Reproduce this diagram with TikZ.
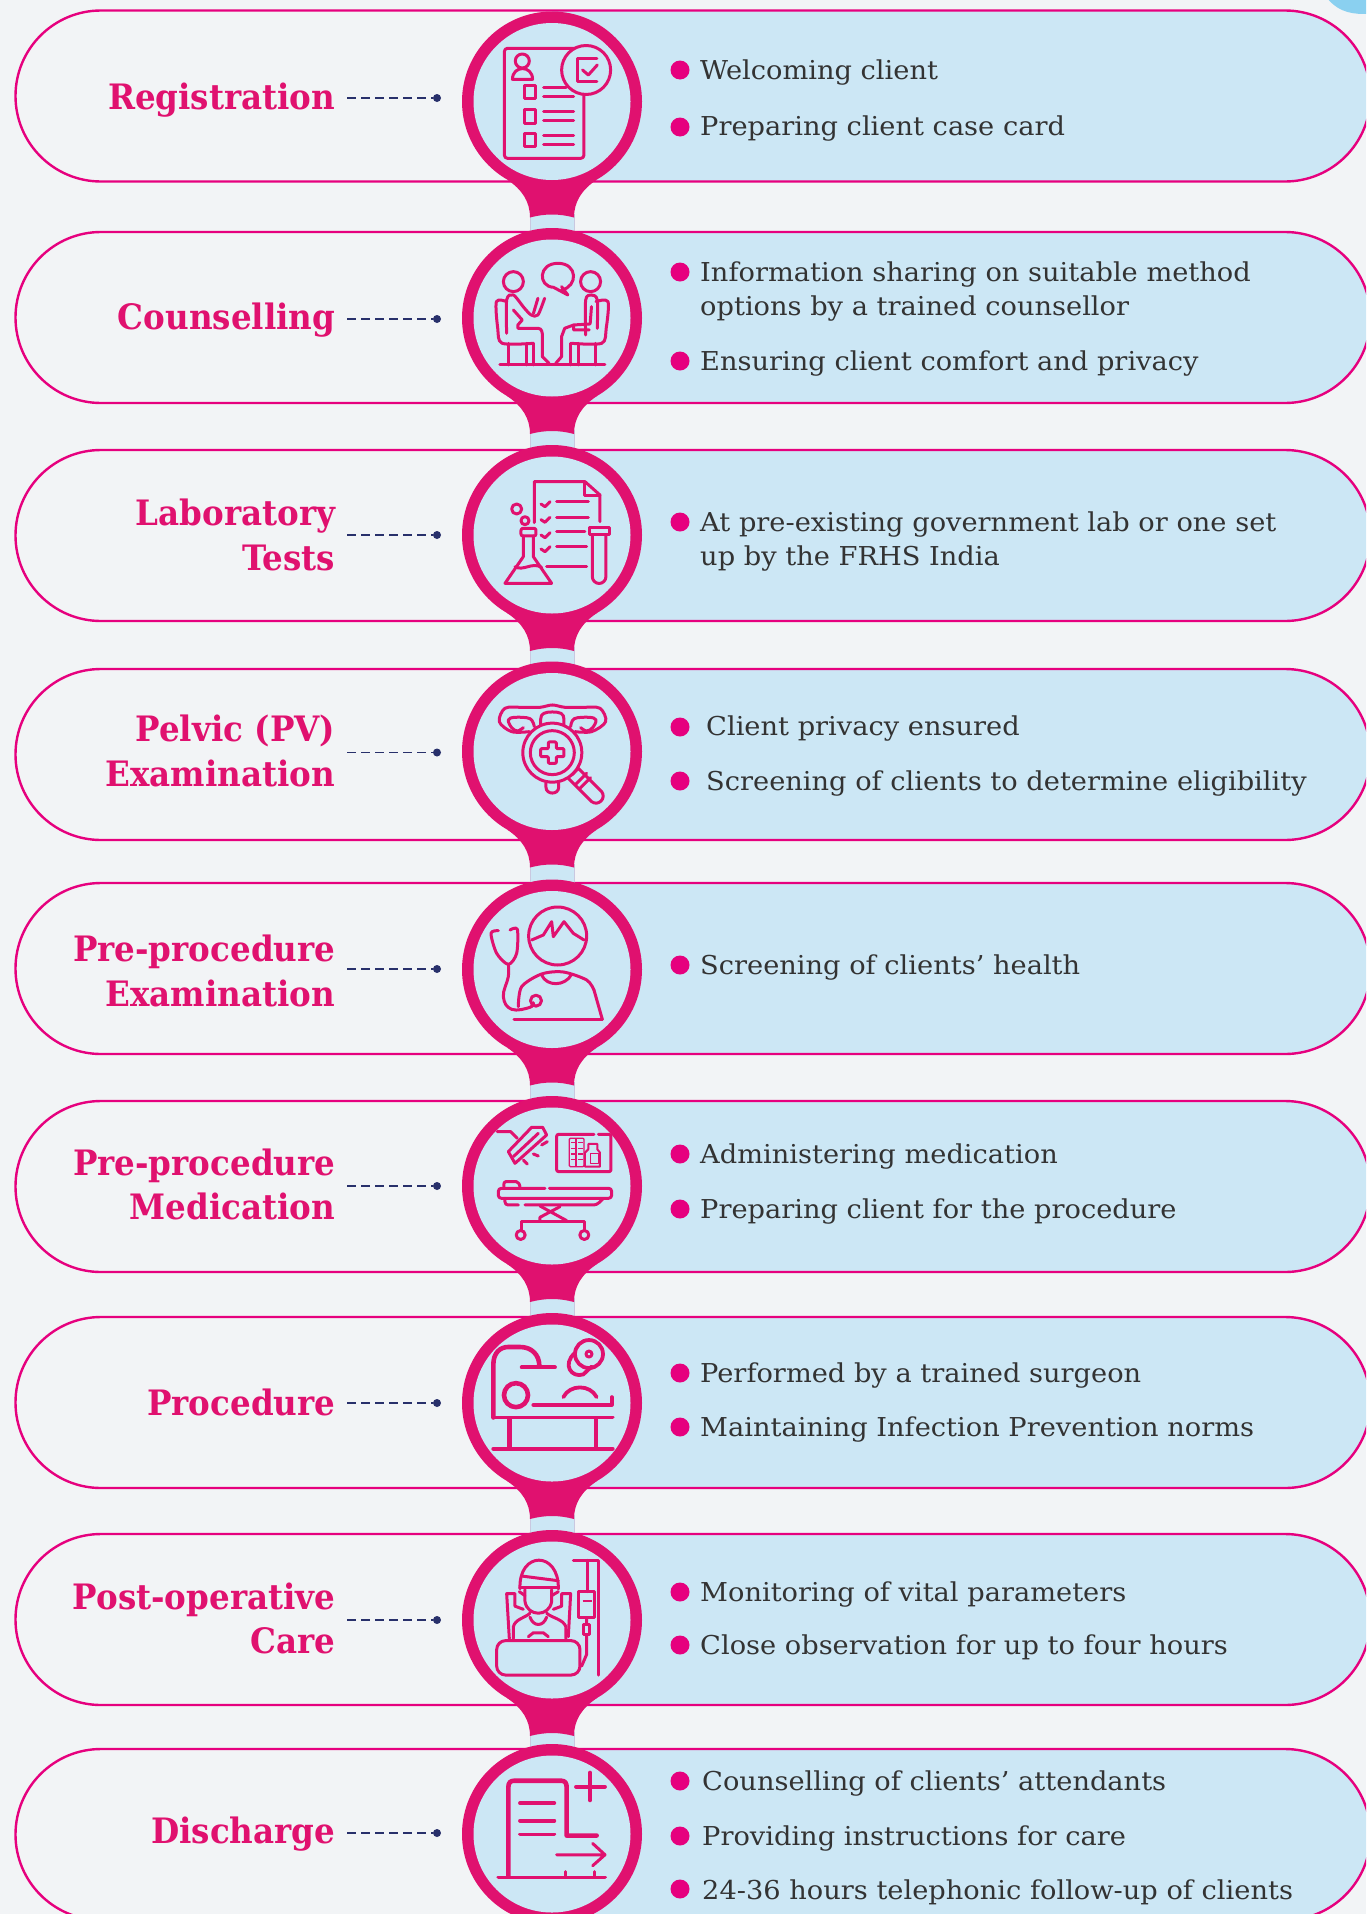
\documentclass[tikz,border=0pt]{standalone}
\usepackage{fontspec}
\setmainfont{DejaVu Serif}
\newfontfamily\titlef[FakeStretch=0.93]{DejaVu Serif Bold}
\newfontfamily\bodyf[FakeStretch=1.048]{DejaVu Serif}
\definecolor{bgc}{HTML}{F2F4F6}
\definecolor{panec}{HTML}{CCE7F5}
\definecolor{linec}{HTML}{E6007E}
\definecolor{ringc}{HTML}{E0116F}
\definecolor{navyc}{HTML}{28306B}
\definecolor{blobc}{HTML}{8AD0F0}
\definecolor{textc}{HTML}{333333}
\definecolor{edgec}{HTML}{C9C8E0}
\tikzset{
 ttl/.style={anchor=mid east,inner sep=0pt,yshift=-10.5pt,text=ringc,font=\titlef\fontsize{35}{35}\selectfont},
 bod/.style={anchor=mid west,inner sep=0pt,yshift=-7pt,text=textc,font=\bodyf\fontsize{26}{26}\selectfont},
 bull/.style={circle,fill=linec,inner sep=0pt,minimum size=19pt},
 tip/.style={circle,fill=navyc,inner sep=0pt,minimum size=8pt},
 dashln/.style={draw=navyc,line width=1.8pt,dash pattern=on 8.5pt off 5.5pt},
 ic/.style={draw=ringc,line width=3pt,line cap=round,line join=round},
 ict/.style={draw=ringc,line width=1.3pt,line join=round},
 ick/.style={draw=ringc,line width=4.6pt,line cap=round,line join=round},
 zA/.style={x=0.4464pt,y=-0.3333pt},
 zB/.style={x=0.3333pt,y=-0.3333pt},
 zC/.style={x=0.3333pt,y=-0.3915pt},
}
\begin{document}
\begin{tikzpicture}[x=1pt,y=-1pt]
\useasboundingbox (0,0) rectangle (1366,1914);
\clip (0,0) rectangle (1366,1914);
\fill[bgc] (0,0) rectangle (1366,1914);
\fill[blobc] (1327,-2) .. controls (1340,14) and (1355,14) .. (1368,14) -- (1368,-2) -- cycle;
% pills
\foreach \py in {96,317.5,535.5,754.5,968.5,1186.5,1402.5,1619.5,1834.5}{
  \fill[panec] (552,\py-85.5) -- (1285,\py-85.5) arc[start angle=90,end angle=-90,radius=85.5pt] -- (552,\py+85.5) -- cycle;
  \draw[linec,line width=2.4pt] (101,\py-85.5) -- (1285,\py-85.5)
     arc[start angle=90,end angle=-90,radius=85.5pt] -- (101,\py+85.5)
     arc[start angle=270,end angle=90,radius=85.5pt] -- cycle;
}
% stems
\foreach \cy in {101.5,318,535,751.5,969.5,1186,1403,1620}{
  \fill[panec] (530,\cy+112) rectangle (574,\cy+170);
  \draw[edgec,line width=0.7pt] (530,\cy+112) -- (530,\cy+170) (574,\cy+112) -- (574,\cy+170);
  \fill[ringc] (507,\cy+78) .. controls (522,\cy+88) and (530,\cy+100) .. (530,\cy+116)
     .. controls (545,\cy+112) and (559,\cy+112) .. (574,\cy+116)
     .. controls (574,\cy+100) and (582,\cy+88) .. (597,\cy+78) -- cycle;
}
% medallions
\foreach \cy in {101.5,318,535,751.5,969.5,1186,1403,1620,1834}{
  \fill[ringc] (552,\cy) circle[radius=90pt];
  \fill[panec] (552,\cy) circle[radius=78.5pt];
}
% titles and connectors
\node[ttl] (t1) at (335.5,96) {Registration};
\node[ttl] (t2) at (335.5,316) {Counselling};
\node[ttl] (t3a) at (335.5,512) {Laboratory};
\node[ttl] (t3b) at (335.5,557) {Tests};
\node[ttl] (t4a) at (335.5,728) {Pelvic (PV)};
\node[ttl] (t4b) at (335.5,773) {Examination};
\node[ttl] (t5a) at (335.5,948) {Pre-procedure};
\node[ttl] (t5b) at (335.5,993) {Examination};
\node[ttl] (t6a) at (335.5,1162) {Pre-procedure};
\node[ttl] (t6b) at (335.5,1206) {Medication};
\node[ttl] (t7) at (335.5,1402) {Procedure};
\node[ttl] (t8a) at (335.5,1596) {Post-operative};
\node[ttl] (t8b) at (335.5,1640) {Care};
\node[ttl] (t9) at (335.5,1830) {Discharge};
\foreach \n/\dy in {1/98,2/319,3/535,4/752.5,5/969,6/1186,7/1403,8/1620,9/1833}{
  \coordinate (ds\n) at (347,\dy);
  \node[tip] (dp\n) at (437,\dy) {};
  \draw[dashln] (ds\n) -- (dp\n);
}
% bullets
\foreach \n/\bx/\by in {a/680/70,b/680/127,c/680/272,d/680/361,e/680/522,f/680/727,g/680/781,h/680/965,i/680/1154,j/680/1209,k/680/1373,l/680/1427,m/680/1592,n/680/1645,o/680/1781,p/680/1836,q/680/1889}{
  \node[bull] (b\n) at (\bx,\by) {};
}
% body text
\node[bod] (x1) at (700,70) {Welcoming client};
\node[bod] (x2) at (700,126) {Preparing client case card};
\node[bod] (x3) at (700,272) {Information sharing on suitable method};
\node[bod] (x4) at (700,306) {options by a trained counsellor};
\node[bod] (x5) at (700,361) {Ensuring client comfort and privacy};
\node[bod] (x6) at (700,522) {At pre-existing government lab or one set};
\node[bod] (x7) at (700,556) {up by the FRHS India};
\node[bod] (x8) at (706,726) {Client privacy ensured};
\node[bod] (x9) at (706,781) {Screening of clients to determine eligibility};
\node[bod] (x10) at (700,965) {Screening of clients’ health};
\node[bod] (x11) at (700,1154) {Administering medication};
\node[bod] (x12) at (700,1209) {Preparing client for the procedure};
\node[bod] (x13) at (700,1373) {Performed by a trained surgeon};
\node[bod] (x14) at (700,1427) {Maintaining Infection Prevention norms};
\node[bod] (x15) at (700,1592) {Monitoring of vital parameters};
\node[bod] (x16) at (700,1645) {Close observation for up to four hours};
\node[bod] (x17) at (702,1781) {Counselling of clients’ attendants};
\node[bod] (x18) at (702,1836) {Providing instructions for care};
\node[bod] (x19) at (702,1890) {24-36 hours telephonic follow-up of clients};
% icon 1: registration
\begin{scope}[zA]
 \draw[ic,rounded corners=3pt] (1300,145) -- (1130,145) -- (1130,475) -- (1308,475) -- (1308,270);
 \draw[ic,fill=panec] (1313,210) circle[radius=24.5pt];
 \draw[ic] (1170,183) circle[radius=7pt];
 \draw[ic] (1148,238) .. controls (1148,195) and (1193,195) .. (1193,238) -- cycle;
 \foreach \yy in {257,330,400}{ \draw[ic] (1176,\yy) rectangle (1200,\yy+40); }
 \foreach \ya/\xe in {262/1268,290/1285,335/1285,362/1285,408/1285,433/1285}{ \draw[ic] (1218,\ya) -- (\xe,\ya); }
 \draw[ic] (1337,175) -- (1293,175) -- (1293,245) -- (1337,245);
 \draw[ic] (1305,210) -- (1318,225) -- (1338,195);
\end{scope}
% icon 2: counselling
\begin{scope}[zA]
 \draw[ic] (1150,845) circle[radius=10pt];
 \draw[ic] (1323,845) circle[radius=10pt];
 \draw[ic] (1258,870) .. controls (1295,860) and (1295,790) .. (1250,790) .. controls (1205,790) and (1205,860) .. (1240,862) -- (1272,885) -- (1258,860);
 \draw[ic] (1120,1095) -- (1355,1095);
 \draw[ic] plot[smooth,tension=.5] coordinates {(1135,905) (1112,905) (1115,985) (1125,1030) (1195,1030)};
 \draw[ic] (1140,1030) -- (1140,1095) (1180,1030) -- (1180,1095) (1195,1030) -- (1195,1095);
 \draw[ic] plot[smooth,tension=.5] coordinates {(1135,1000) (1135,900) (1150,885) (1175,925) (1190,945) (1205,945) (1220,895)};
 \draw[ic] (1205,895) -- (1195,940);
 \draw[ic] (1150,930) -- (1170,960) -- (1160,975) -- (1160,985) -- (1205,985) .. controls (1215,985) and (1215,1000) .. (1215,1010) -- (1215,1070) -- (1230,1090);
 \draw[ic] plot[smooth,tension=.5] coordinates {(1335,905) (1362,905) (1358,985) (1348,1030) (1280,1030)};
 \draw[ic] (1333,1030) -- (1333,1095) (1295,1030) -- (1295,1095) (1278,1030) -- (1278,1095);
 \draw[ic] plot[smooth,tension=.5] coordinates {(1312,1005) (1312,900) (1325,885) (1338,900) (1338,985)};
 \draw[ic] (1325,920) -- (1322,972) -- (1285,975) -- (1285,990) -- (1320,990);
 \draw[ic] (1285,975) -- (1265,985) -- (1258,1010) -- (1258,1070) -- (1245,1090);
\end{scope}
% icon 3: laboratory
\begin{scope}[shift={(440,430)},zB]
 \draw[ic] (283,278) -- (283,155) -- (435,155) -- (480,195) -- (480,275);
 \draw[ic] (435,155) -- (435,195) -- (480,195);
 \foreach \yy in {225,272,318,360}{ \draw[ic] (303,\yy-3) -- (315,\yy+5) -- (330,\yy-10); }
 \foreach \yy/\xa/\xb in {215/350/445,262/350/445,305/350/435,350/350/440,410/320/440}{ \draw[ic] (\xa,\yy) -- (\xb,\yy); }
 \draw[ic,rounded corners=2pt] (243,295) rectangle (288,318);
 \draw[ic] (250,318) -- (250,380) -- (195,460) -- (335,460) -- (280,380) -- (280,318);
 \draw[ic] (225,410) .. controls (250,425) and (275,395) .. (305,412);
 \draw[ic] (230,237) circle[radius=5pt];
 \draw[ic] (255,272) circle[radius=4pt];
 \draw[ic] (448,292) rectangle (508,315);
 \draw[ic] (457,315) -- (457,440) arc[start angle=180,end angle=360,radius=6.8pt] -- (498,315);
\end{scope}
% icon 4: pelvic
\begin{scope}[shift={(440,430)},zB]
 \draw[ic] plot[smooth,tension=.55] coordinates {(268,905) (215,905) (178,875) (195,835) (245,832) (300,832) (337,825) (375,832) (430,832) (480,835) (497,875) (455,905) (405,905)};
 \draw[ic] plot[smooth,tension=.6] coordinates {(250,893) (232,903) (215,893) (205,870) (225,862) (270,866) (283,890)};
 \draw[ic] plot[smooth,tension=.6] coordinates {(422,893) (440,903) (458,893) (468,870) (448,862) (403,866) (392,890)};
 \draw[ic] (302,895) -- (302,868) .. controls (302,850) and (315,846) .. (337,846) .. controls (360,846) and (372,850) .. (372,868) -- (372,895);
 \draw[ic,fill=panec] (337,968) circle[radius=29.5pt];
 \draw[ic] (337,968) circle[radius=22pt];
 \draw[ic,rounded corners=1pt] (325,936) -- (349,936) -- (349,956) -- (372,956) -- (372,980) -- (349,980) -- (349,1000) -- (325,1000) -- (325,980) -- (302,980) -- (302,956) -- (325,956) -- cycle;
 \draw[ic] (318,1058) -- (318,1072) .. controls (318,1095) and (356,1095) .. (356,1072) -- (356,1058);
 \draw[ic] (395,1035) -- (415,1015) -- (485,1085) .. controls (500,1105) and (475,1130) .. (455,1115) -- (385,1045);
 \draw[ic] (408,1062) -- (440,1030) (420,1075) -- (452,1043);
\end{scope}
% icon 5: examination
\begin{scope}[shift={(440,870)},zB]
 \draw[ic] (353,198) circle[radius=29pt];
 \draw[ic] (275,210) -- (310,195) -- (335,155) -- (340,200) -- (372,155) -- (400,190) -- (432,210);
 \draw[ic] (222,448) -- (487,448);
 \draw[ic] plot[smooth,tension=.5] coordinates {(235,410) (245,350) (305,312) (370,306) (440,330) (462,360)};
 \draw[ic] (462,360) -- (487,448);
 \draw[ic] (305,315) .. controls (320,350) and (375,350) .. (395,313);
 \draw[ic] plot[smooth,tension=.5] coordinates {(175,182) (153,190) (170,250) (205,283) (230,250) (232,178) (210,180)};
 \draw[ic] plot[smooth,tension=.7] coordinates {(205,283) (205,320) (190,380) (215,418) (270,412) (280,398)};
 \draw[ic] (288,392) circle[radius=5.5pt];
\end{scope}
% icon 6: medication
\begin{scope}[shift={(440,870)},zB]
 \draw[ic] (172,785) -- (212,785) -- (232,805);
 \draw[ic] (205,845) -- (225,880) -- (320,795) -- (308,772) -- (275,772) -- cycle;
 \draw[ic] (220,860) -- (295,790);
 \draw[ic] (250,870) -- (262,882) (280,852) -- (295,858) (305,825) -- (322,815);
 \draw[ic,rounded corners=2pt] (462,793) -- (350,793) -- (350,905) -- (513,905) -- (513,793) -- (475,793);
 \draw[ict,rounded corners=1pt] (388,805) rectangle (432,890);
 \foreach \yy in {818,835,852,868}{ \draw[ict] (393,\yy) -- (408,\yy) (414,\yy) -- (428,\yy); }
 \draw[ict] (408,805) -- (408,890);
 \draw[ic,line width=2pt] (445,822) -- (472,822) -- (472,838) -- (480,848) -- (480,890) -- (435,890) -- (435,848) -- (445,838) -- cycle;
 \draw[ict] (452,850) rectangle (476,880);
 \draw[ic,rounded corners=3pt] (315,955) -- (175,955) -- (175,985) -- (515,985) -- (515,955) -- (328,955);
 \draw[ic,rounded corners=2pt] (192,950) -- (192,935) -- (235,935) -- (240,950);
 \draw[ic,rounded corners=3pt] (195,985) -- (195,1005) -- (235,1005);
 \draw[ic,rounded corners=3pt] (255,1005) -- (470,1005) -- (490,985);
 \draw[ic] (300,1008) -- (380,1052) (360,1010) -- (300,1042) -- (300,1052);
 \draw[ic] (245,1080) -- (245,1055) -- (435,1055) -- (435,1080);
 \draw[ic] (242,1095) circle[radius=4.5pt];
 \draw[ic] (433,1095) circle[radius=4.5pt];
\end{scope}
% icon 7: procedure
\begin{scope}[shift={(440,1300)},zC]
 \draw[ick] (160,300) -- (160,165) .. controls (160,135) and (180,120) .. (205,120) -- (240,120) .. controls (275,120) and (298,140) .. (298,168);
 \draw[ic,line width=3.8pt] (245,172) -- (345,172);
 \draw[ick] (228,243) circle[radius=12pt];
 \draw[ic,line width=3.8pt] (280,268) -- (515,268) -- (515,248);
 \draw[ic,line width=3.8pt] (160,300) -- (518,300);
 \draw[ic,line width=3.8pt] (370,248) .. controls (390,215) and (450,215) .. (470,248);
 \draw[ic,line width=3.8pt] (447,138) circle[radius=14pt];
 \draw[ic] (447,138) circle[radius=3pt];
 \draw[ic,line width=3.8pt] (405,135) .. controls (365,165) and (395,200) .. (430,190) -- (455,170);
 \draw[ick,line width=5.5pt,line cap=butt] (208,300) -- (208,380);
 \draw[ick,line cap=butt] (468,300) -- (468,380);
 \draw[ic,line width=4pt] (160,380) -- (518,380);
\end{scope}
% icon 8: post-operative
\begin{scope}[shift={(440,1300)},zC]
 \draw[ic] (240,738) .. controls (235,640) and (358,640) .. (355,738);
 \draw[ic] (245,705) -- (355,717);
 \draw[ic] (240,735) -- (355,735);
 \draw[ic] (255,740) -- (255,770) .. controls (262,810) and (328,810) .. (335,770) -- (335,740);
 \draw[ic] (255,755) -- (238,745) (335,755) -- (355,745);
 \draw[ic] (208,865) -- (200,750) -- (225,750) -- (225,782) -- (250,790);
 \draw[ic] (340,790) -- (365,782) -- (365,750) -- (392,750) -- (385,860);
 \draw[ic] (220,865) -- (220,835) .. controls (225,815) and (255,812) .. (270,800);
 \draw[ic] (320,800) .. controls (335,812) and (370,815) .. (378,835) -- (378,865);
 \draw[ic] (270,810) .. controls (280,835) and (310,835) .. (320,810);
 \draw[ic] (265,860) -- (280,850) -- (310,850) -- (325,860);
 \draw[ic,rounded corners=9pt] (170,870) rectangle (420,958);
 \draw[ic] (400,665) -- (475,665) -- (475,958);
 \draw[ic] (442,665) -- (442,745);
 \draw[ic] (415,745) rectangle (465,812);
 \draw[ict,line width=1.8pt] (428,768) -- (455,768);
 \draw[ic] (430,828) rectangle (448,855);
 \draw[ic] (440,812) -- (440,828) (440,855) -- (440,905) -- (425,935);
\end{scope}
% icon 9: discharge
\begin{scope}[shift={(440,1300)},zC]
 \draw[ick] (205,1470) -- (205,1245) .. controls (205,1232) and (212,1228) .. (222,1228) -- (365,1228) .. controls (376,1228) and (380,1235) .. (380,1245) -- (380,1368) -- (470,1368);
 \foreach \yy in {1285,1330,1365}{ \draw[ic,line width=3.8pt] (240,\yy) -- (343,\yy); }
 \draw[ic,line width=3.8pt] (450,1207) -- (450,1278) (408,1243) -- (495,1243);
 \draw[ic] (350,1417) -- (495,1417) (458,1388) -- (495,1417) -- (458,1445);
 \draw[ic,line width=3.8pt] (175,1475) -- (495,1475);
 \draw[ic] (378,1460) -- (378,1470) (465,1460) -- (465,1470);
\end{scope}
\end{tikzpicture}
\end{document}
